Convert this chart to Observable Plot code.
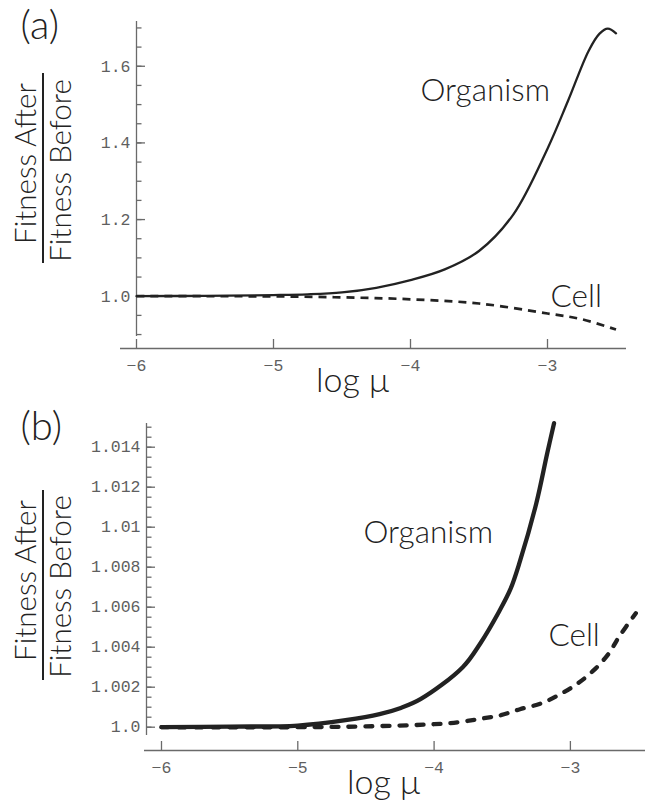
<!DOCTYPE html>
<html><head><meta charset="utf-8">
<script src="https://cdn.jsdelivr.net/npm/d3@7"></script>
<script src="https://cdn.jsdelivr.net/npm/@observablehq/plot@0.6"></script>
<style>
body{margin:0;background:#fff;}
#wrap{position:relative;width:649px;height:802px;overflow:hidden;background:#fff;}
#wrap svg{display:block;overflow:visible;}
</style></head><body><div id="wrap"></div>
<script>
// ---------- shared ----------
const xTicks = [-6, -5, -4, -3];
const xTickLabels = ["\u22126", "\u22125", "\u22124", "\u22123"];

// ---------- panel (a) data ----------
const aOrgX = [-6.0, -5.5, -5.0, -4.75, -4.5, -4.25, -4.0, -3.75, -3.5, -3.25, -3.0, -2.85, -2.7, -2.62, -2.56, -2.5];
const aOrgY = [1.000, 1.001, 1.003, 1.005, 1.010, 1.022, 1.042, 1.070, 1.118, 1.213, 1.385, 1.510, 1.640, 1.685, 1.698, 1.686];
const aCellX = [-6.0, -5.5, -5.0, -4.5, -4.0, -3.5, -3.0, -2.75, -2.5];
const aCellY = [1.000, 1.000, 0.9995, 0.997, 0.992, 0.981, 0.955, 0.940, 0.913];
const aYTicks = [1.0, 1.2, 1.4, 1.6];
const aYTickLabels = ["1.0", "1.2", "1.4", "1.6"];

// ---------- panel (b) data ----------
const bOrgX = [-6.0, -5.5, -5.0, -4.65, -4.4, -4.25, -4.1, -3.79, -3.66, -3.53, -3.44, -3.37, -3.25, -3.17, -3.12];
const bOrgY = [1.0, 1.00003, 1.00008, 1.00035, 1.00065, 1.00095, 1.0014, 1.0030, 1.0042, 1.0057, 1.0069, 1.0083, 1.0112, 1.0137, 1.0152];
const bCellX = [-6.0, -5.0, -4.5, -4.0, -3.82, -3.66, -3.51, -3.37, -3.21, -3.07, -2.95, -2.83, -2.72, -2.645, -2.52];
const bCellY = [1.0, 1.0, 1.00004, 1.00015, 1.00025, 1.00042, 1.0006, 1.0009, 1.0012, 1.00167, 1.00217, 1.00284, 1.00367, 1.0045, 1.0057];
const bYTicks = [1.0, 1.002, 1.004, 1.006, 1.008, 1.01, 1.012, 1.014];
const bYTickLabels = ["1.0", "1.002", "1.004", "1.006", "1.008", "1.01", "1.012", "1.014"];

// ---------- styling ----------
const W = 649, H = 401;
const axisColor = "#6a6a6a";
const labelColor = "#5f5f5f";
const ink = "#222";
const sans = "Lato, 'Open Sans', sans-serif";
const mono = "'Liberation Mono', 'DejaVu Sans Mono', monospace";

const pts = (xs, ys) => xs.map((x, i) => ({x, y: ys[i]}));

function at(px, py, m) { return {frameAnchor: "top-left", dx: px - m.left, dy: py - m.top}; }
function label(str, px, py, m, opts = {}) {
  return Plot.text([str], {text: d => d, ...at(px, py, m), fontFamily: sans, fill: ink,
    lineAnchor: "bottom", textAnchor: "start", ...opts});
}
function vline(x, y1, y2) {
  return () => {
    const l = document.createElementNS("http://www.w3.org/2000/svg", "line");
    l.setAttribute("x1", x); l.setAttribute("x2", x);
    l.setAttribute("y1", y1); l.setAttribute("y2", y2);
    l.setAttribute("stroke", ink); l.setAttribute("stroke-width", 2);
    return l;
  };
}

function panel({m, xDomain, yDomain, yAxisLow, xLineLeftExt, yTicks, yTickLabels, yMinor,
                org, cell, orgW, cellW, cellDash, cellCap, panelLabel, afterY, beforeY, fracTop, fracBot,
                logX, logY, orgLabel, cellLabel}) {
  return Plot.plot({
    width: W, height: H,
    marginLeft: m.left, marginRight: m.right, marginTop: m.top, marginBottom: m.bottom,
    x: {domain: xDomain}, y: {domain: yDomain},
    style: {background: "white", overflow: "visible"},
    marks: [
      // axis lines
      Plot.ruleY([yDomain[0]], {stroke: axisColor, strokeWidth: 1.3, insetLeft: -xLineLeftExt}),
      Plot.ruleX([xDomain[0]], {y1: yAxisLow, y2: yDomain[1], stroke: axisColor, strokeWidth: 1.3}),
      // x ticks (inward) and labels
      Plot.axisX({ticks: xTicks, tickSize: -9, tickFormat: () => "", stroke: axisColor, strokeWidth: 1.3, label: null}),
      Plot.axisX({ticks: xTicks, tickSize: 0, tickPadding: 11, tickFormat: d => xTickLabels[xTicks.indexOf(d)],
        fontFamily: mono, fontSize: 16.5, fill: labelColor, stroke: "none", label: null}),
      // y ticks
      Plot.axisY({ticks: yMinor, tickSize: -5.5, tickFormat: () => "", stroke: axisColor, strokeWidth: 1.3, label: null}),
      Plot.axisY({ticks: yTicks, tickSize: -9, tickFormat: () => "", stroke: axisColor, strokeWidth: 1.3, label: null}),
      Plot.axisY({ticks: yTicks, tickSize: 0, tickPadding: 6, tickFormat: d => yTickLabels[yTicks.indexOf(d)],
        fontFamily: mono, fontSize: 16.5, fill: labelColor, stroke: "none", label: null}),
      // curves
      Plot.line(cell, {x: "x", y: "y", stroke: ink, strokeWidth: cellW, strokeDasharray: cellDash,
        strokeLinecap: cellCap, curve: "catmull-rom"}),
      Plot.line(org, {x: "x", y: "y", stroke: ink, strokeWidth: orgW, curve: "catmull-rom"}),
      // curve labels (data coordinates)
      Plot.text([orgLabel], {x: "x", y: "y", text: "t", fontFamily: sans, fontSize: 31.5, fill: ink,
        fontWeight: 300, textAnchor: "start", lineAnchor: "bottom"}),
      Plot.text([cellLabel], {x: "x", y: "y", text: "t", fontFamily: sans, fontSize: 31.5, fill: ink,
        fontWeight: 300, textAnchor: "start", lineAnchor: "bottom"}),
      // panel label, axis titles
      label(panelLabel, 20, 38, m, {fontSize: 40, fontWeight: 300}),
      label("Fitness After", 35, afterY, m, {fontSize: 29.5, fontWeight: 300, rotate: -90, textAnchor: "middle"}),
      label("Fitness Before", 70, beforeY, m, {fontSize: 29.5, fontWeight: 300, rotate: -90, textAnchor: "middle"}),
      vline(43, fracTop, fracBot),
      label("log \u03bc", logX, logY, m, {fontSize: 34, fontWeight: 300, textAnchor: "middle"})
    ]
  });
}

const mA = {left: 136, right: 23, top: 21, bottom: 53};
const chartA = panel({
  m: mA, xDomain: [-6, -2.4234], yDomain: [0.8636, 1.7168], yAxisLow: 0.895, xLineLeftExt: 16,
  yTicks: aYTicks, yTickLabels: aYTickLabels, yMinor: d3.range(0.9, 1.7001, 0.05),
  org: pts(aOrgX, aOrgY), cell: pts(aCellX, aCellY), orgW: 2.3, cellW: 2.7, cellDash: "8,6", cellCap: "butt",
  panelLabel: "(a)", afterY: 163, beforeY: 170, fracTop: 73, fracBot: 263, logX: 352, logY: 391,
  orgLabel: {x: -3.927, y: 1.5106, t: "Organism"}, cellLabel: {x: -2.978, y: 0.9731, t: "Cell"}
});

const mB = {left: 146, right: 4, top: 22, bottom: 52};
const chartB = panel({
  m: mB, xDomain: [-6.110, -2.449], yDomain: [0.998835, 1.015185], yAxisLow: 0.99959, xLineLeftExt: 2,
  yTicks: bYTicks, yTickLabels: bYTickLabels, yMinor: d3.range(1.0, 1.01501, 0.0005),
  org: pts(bOrgX, bOrgY), cell: pts(bCellX, bCellY), orgW: 4.3, cellW: 4.3, cellDash: "7,10", cellCap: "round",
  panelLabel: "(b)", afterY: 179, beforeY: 185, fracTop: 89, fracBot: 279, logX: 383, logY: 392,
  orgLabel: {x: -4.518, y: 1.009235, t: "Organism"}, cellLabel: {x: -3.161, y: 1.004085, t: "Cell"}
});

const wrap = document.getElementById("wrap");
wrap.append(chartA, chartB);
</script>
</body></html>
